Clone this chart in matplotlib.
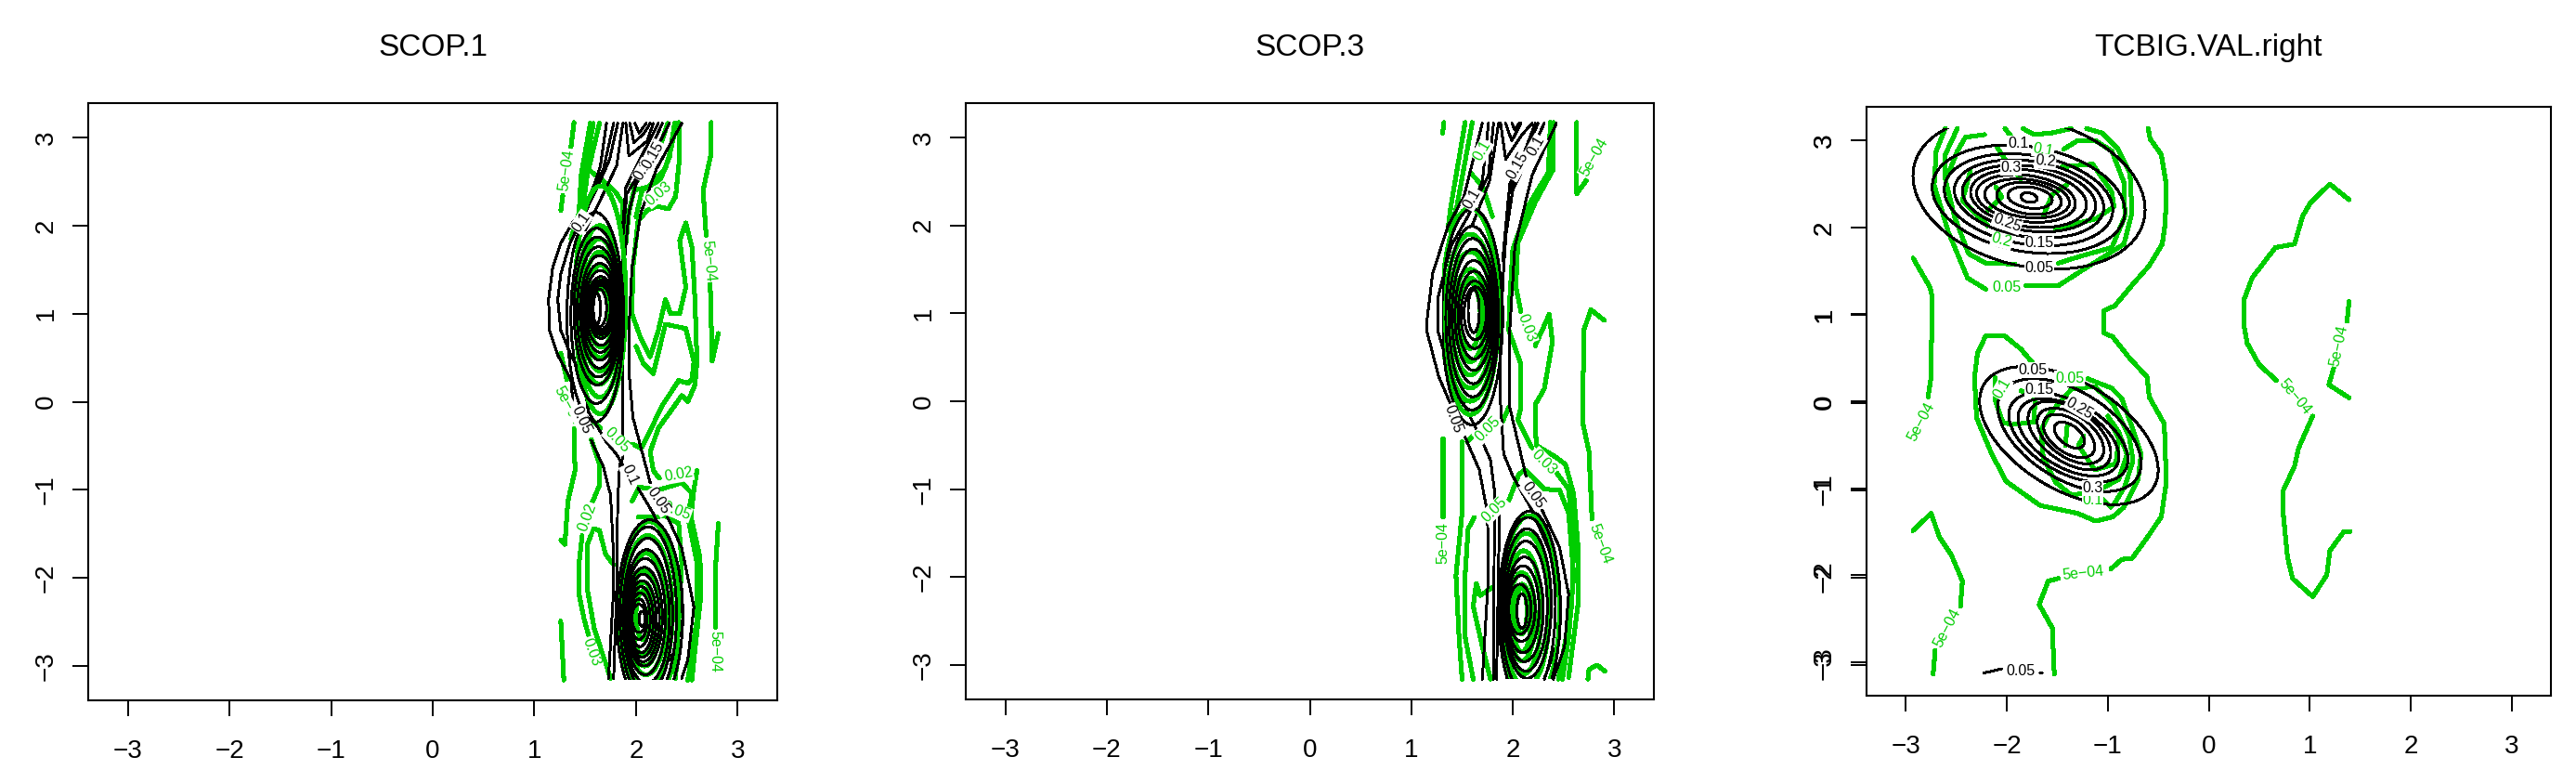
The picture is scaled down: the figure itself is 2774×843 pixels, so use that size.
import numpy as np
import matplotlib
matplotlib.use('Agg')
import matplotlib.pyplot as plt
from matplotlib.patches import Ellipse, Rectangle

plt.rcParams['font.family'] = ['Liberation Sans', 'DejaVu Sans']

GREEN = '#00CD00'
M = '5e\u221204'
W, H = 2774, 843
LIM = 3.39

titles = ['SCOP.1', 'SCOP.3', 'TCBIG.VAL.right']
ticks = [-3, -2, -1, 0, 1, 2, 3]
# frame of each panel in pixels: left, right, top, bottom
frames = [(95, 837, 111, 754), (1040, 1781, 111, 753), (2010, 2747, 115, 749)]
# contour grid extent per panel: x0, x1, y0, y1
extents = [(1.25, 2.82, -3.16, 3.17), (1.30, 2.92, -3.16, 3.17), (-2.95, 1.40, -3.14, 3.14)]

# ---- SCOP.1 ----
scop1_green = [
    [(2.74, 3.17), (2.74, 2.82), (2.66, 2.40), (2.69, 1.89), None, (2.73, 1.34), (2.75, .46), (2.81, .775)],
    [(1.39, 3.17), (1.36, 2.89), None, (1.28, 2.34), (1.26, 2.17)],
    [(2.42, 3.17), (2.43, 2.79), (2.39, 2.33), (2.32, 2.19), (2.20, 2.22), (2.11, 2.17), (2.02, 2.05), (1.97, 1.52),
     (1.96, 1.0), (2.05, .71), (2.14, .51), (2.22, .81), (2.29, 1.16), (2.34, 1.0), (2.43, 1.0), (2.49, 1.30),
     (2.43, 1.83), (2.49, 2.03), (2.55, 1.76), (2.58, 1.16), (2.60, .46), (2.58, .19), (2.51, 0.0), (2.45, .07),
     (2.34, -.11), (2.22, -.30), (2.14, -.57), (2.17, -.78), (2.23, -.87)],
    [(2.0, .63), (2.07, .44), (2.17, .32), (2.29, .88), (2.49, .83), (2.57, .46), (2.55, .25), (2.51, .21),
     (2.42, .24), (2.26, -.04), (2.13, -.35), (2.05, -.53), (1.97, -.48), None, (1.65, -.30), (1.58, -.22)],
    [(1.26, .55), (1.32, .25), None, (1.39, -.30), (1.40, -.78), (1.33, -1.13), (1.30, -1.62), (1.26, -1.57)],
    [(1.56, -.43), (1.64, -.71), (1.64, -.95), (1.56, -1.17), None, (1.47, -1.52), (1.44, -1.83), (1.44, -2.19),
     (1.49, -2.47), (1.55, -2.72), None, (1.62, -3.14)],
    [(1.78, -1.85), (1.70, -1.73), (1.64, -1.46), (1.58, -1.44), (1.52, -1.63), (1.52, -2.12), (1.59, -2.58), (1.75, -3.14)],
    [(1.26, -2.49), (1.29, -3.16)],
    [(2.81, -1.38), (2.78, -1.94), (2.78, -2.56)],
    [(2.60, -.78), (2.57, -1.0), (2.54, -1.30), (2.63, -1.77), (2.64, -2.19), (2.58, -2.82), (2.55, -3.16)],
    [(2.03, -.97), (2.23, -1.0), (2.45, -.92), (2.55, -1.04), (2.51, -1.31), (2.60, -1.83), (2.60, -2.47), (2.51, -3.16)],
    [(1.96, -1.13), (2.03, -.97)],
    [(2.02, -1.31), (2.29, -1.30), (2.42, -1.38), (2.45, -1.83), (2.39, -3.14)],
    [(1.55, 3.16), (1.46, 2.57), (1.44, 2.15), (1.36, 1.85)],
    [(1.64, 3.16), (1.52, 2.57), (1.48, 2.22), (1.40, 1.95)],
    [(1.58, 3.16), (1.49, 2.57), (1.46, 2.22), (1.38, 1.90)],
    [(2.40, 3.16), (2.34, 2.85), (2.29, 2.65), (2.12, 2.44), (1.98, 2.40), (1.93, 2.15), (1.90, 1.80)],
    [(2.31, 3.16), (2.24, 2.90), (2.10, 2.60), (1.96, 2.45)],
    [(2.38, 3.16), (2.33, 2.78), (2.24, 2.52), (2.06, 2.40), (2.0, 2.10)],
    [(1.55, 2.62), (1.68, 2.50), (1.80, 2.38), (1.87, 2.25), (1.86, 1.90)],
]
scop1_black = [
    [(2.45, 3.16), (2.20, 2.64), (2.05, 2.15), (1.96, 1.52), (1.93, .81), (1.93, .35), (1.97, -.18), (2.14, -.92), None,
     (2.31, -1.31), (2.45, -1.66), (2.57, -2.33), (2.51, -2.93), (2.45, -3.14)],
    [(1.71, 3.16), (1.65, 2.68), (1.59, 2.47), (1.52, 2.27), None, (1.39, 2.06), (1.26, 1.80), (1.18, 1.52), (1.14, 1.16),
     (1.15, .81), (1.23, .53), (1.36, .25), (1.38, -.02), None, (1.56, -.44), (1.68, -.74), (1.75, -1.06), (1.78, -1.77),
     (1.78, -2.12), (1.73, -3.14)],
    [(1.82, 3.16), (1.74, 2.75), (1.62, 2.43), (1.50, 2.15), (1.35, 1.80), (1.26, 1.45), (1.23, 1.16), (1.26, .81),
     (1.36, .53), (1.49, .25), (1.53, -.11), (1.71, -.46), (1.81, -.60), (1.88, -.74), None, (2.02, -.98), (2.17, -1.27),
     (2.32, -1.66), (2.45, -2.12), (2.46, -2.47), (2.39, -2.82), (2.20, -3.14)],
    [(2.33, 3.16), (2.11, 2.68), (2.0, 2.47), (1.93, 2.15), (1.88, 1.52), (1.87, .81), (1.87, .35), (1.87, -.64),
     (1.84, -.71), (1.82, -1.13), (1.81, -2.12), (1.78, -3.14)],
    [(1.78, 3.16), (1.68, 2.64), (1.53, 2.29), (1.44, 2.04)],
    [(1.87, 3.16), (1.81, 2.68), (1.62, 2.22), (1.50, 1.95)],
    [(2.26, 3.16), (2.02, 2.57), (1.91, 2.36), (1.87, 1.87), (1.86, 1.40)],
    [(2.22, 3.16), (1.99, 2.64), (1.90, 2.43), (1.87, 2.0)],
    [(1.90, 3.16), (1.93, 2.79), (2.11, 2.96), (2.17, 3.16)],
    [(1.94, 3.16), (1.98, 2.94), (2.08, 3.05), (2.14, 3.16)],
    [(1.99, 3.16), (2.03, 3.05), (2.10, 3.16)],
]
# rings as x_lo, x_hi, y_lo, y_hi
scop1_rings_green = [
    (1.40, 1.90, -.14, 2.45), (1.42, 1.87, .05, 2.0), (1.44, 1.84, .2, 1.85), (1.47, 1.82, .35, 1.70),
    (1.50, 1.80, .5, 1.55), (1.53, 1.78, .62, 1.4), (1.56, 1.74, .75, 1.28),
    (1.84, 2.42, -3.4, -1.36), (1.87, 2.36, -3.25, -1.52), (1.90, 2.30, -3.1, -1.72), (1.93, 2.24, -3.0, -1.92),
    (1.96, 2.19, -2.88, -2.05), (2.0, 2.14, -2.70, -2.15),
]
scop1_rings_black = [
    (1.32, 1.88, -.23, 2.15), (1.36, 1.86, -.02, 1.97), (1.39, 1.85, .19, 1.87), (1.42, 1.84, .28, 1.76),
    (1.45, 1.83, .38, 1.66), (1.47, 1.82, .47, 1.57), (1.49, 1.81, .56, 1.49), (1.51, 1.80, .64, 1.42),
    (1.53, 1.785, .72, 1.38), (1.54, 1.775, .76, 1.36), (1.55, 1.765, .79, 1.34), (1.56, 1.75, .82, 1.32),
    (1.57, 1.71, .85, 1.28), (1.58, 1.65, .88, 1.23),
    (1.81, 2.46, -3.5, -1.34), (1.84, 2.40, -3.4, -1.42), (1.87, 2.36, -3.3, -1.55), (1.88, 2.33, -3.2, -1.68),
    (1.89, 2.29, -3.1, -1.78), (1.90, 2.26, -3.0, -1.88), (1.91, 2.23, -2.95, -1.96), (1.92, 2.20, -2.90, -2.03),
    (1.93, 2.17, -2.85, -2.10), (1.94, 2.14, -2.78, -2.17), (1.95, 2.11, -2.70, -2.24), (1.96, 2.10, -2.62, -2.3),
    (2.03, 2.09, -2.55, -2.38),
]
# text, x, y, rotation, colour
scop1_labels = [
    (M, 1.32, 2.63, 82, GREEN), (M, 2.71, 1.60, -85, GREEN), (M, 1.32, -.04, -62, GREEN), ('0.02', 2.42, -.83, 10, GREEN),
    ('0.03', 2.22, 2.36, 40, GREEN), ('0.05', 1.81, -.44, -45, GREEN), ('0.05', 2.40, -1.24, -20, GREEN),
    ('0.02', 1.52, -1.31, 70, GREEN), ('0.03', 1.56, -2.84, -70, GREEN), (M, 2.78, -2.84, -90, GREEN),
    ('0.1', 1.46, 2.04, 55, 'black'), ('0.1', 2.07, 2.63, 60, 'black'), ('0.15', 2.17, 2.80, 60, 'black'),
    ('0.05', 1.46, -.21, -65, 'black'), ('0.1', 1.94, -.83, -65, 'black'), ('0.05', 2.22, -1.13, -55, 'black'),
]

# ---- SCOP.3 ----
scop3_green = [
    [(1.32, 3.17), (1.31, 3.05)],
    [(2.63, 3.17), (2.63, 2.36), (2.73, 2.52)],
    [(2.90, .92), (2.77, 1.04), (2.70, .81), (2.69, -.07), (2.69, -.25), (2.75, -.57), (2.78, -1.34)],
    [(2.74, -3.16), (2.75, -3.05), (2.83, -3.0), (2.91, -3.07)],
    [(1.31, -.42), (1.31, -1.32)],
    [(2.40, 3.17), (2.40, 2.64), (2.22, 2.26), (2.05, 1.80), (2.03, 1.30), (2.08, 1.02), None, (2.22, .63), (2.36, .99),
     (2.39, .67), (2.31, .14), (2.22, -.04), (2.23, -.5), (2.43, -.64), (2.52, -.72), (2.60, -1.06), (2.64, -1.62),
     (2.64, -2.33), (2.55, -3.14)],
    [(2.37, 3.17), (2.35, 2.60), (2.15, 2.22), (2.0, 1.73), (1.97, 1.16), (1.96, .81), (2.08, .42), (2.08, -.07),
     (2.05, -.21), (2.19, -.53), None, (2.43, -.81), (2.55, -1.0), (2.60, -1.62), (2.58, -2.33), (2.45, -3.16)],
    [(1.53, 3.17), (1.39, 2.22), (1.36, 1.95)],
    [(1.60, 3.17), (1.45, 2.22), (1.38, 1.95)],
    [(1.50, -.46), (1.50, -1.27), (1.44, -1.98), (1.47, -2.68), (1.50, -3.16)],
    [(1.62, -1.32), (1.56, -1.45), (1.53, -1.98), (1.53, -2.68), (1.61, -3.16)],
    [(1.79, -2.12), (1.68, -2.21), (1.64, -2.07), (1.61, -2.33), (1.70, -2.79), (1.78, -3.16)],
    [(1.96, -1.13), (2.06, -.83), (2.12, -.78), (2.31, -1.0), (2.46, -1.01), (2.55, -1.27), (2.60, -1.98), (2.55, -2.68), (2.49, -3.16)],
    [(1.96, -.07), (1.90, -.23), None, (1.60, -.40), (1.55, -.46)],
    [(1.58, 2.60), (1.70, 2.45), (1.80, 2.10)],
]
scop3_black = [
    [(1.70, 3.16), (1.52, 2.33), (1.36, 1.99), (1.21, 1.45), (1.15, .88), (1.15, .81), (1.27, .28), (1.39, -.04), None,
     (1.53, -.41), (1.67, -.78), (1.75, -1.27), (1.76, -1.98), (1.70, -3.16)],
    [(1.81, 3.16), (1.76, 2.57), (1.58, 2.15), (1.39, 1.76), (1.26, 1.16), (1.26, .81), (1.39, .28), (1.53, -.06),
     (1.70, -.46), (1.78, -.67), (1.82, -1.02), (1.81, -3.16)],
    [(2.43, 3.16), (2.19, 2.57), (2.02, 1.76), (1.97, .81), (1.97, -.04), (1.97, -.07), (2.13, -.85), None, (2.29, -1.24),
     (2.46, -1.66), (2.55, -2.19), (2.51, -2.79), (2.40, -3.16)],
    [(2.25, 3.16), (1.97, 2.47), (1.91, 1.52), (1.88, .81), (1.88, -.04), (1.89, -.21), (1.91, -.6), (2.0, -.85),
     (2.19, -1.24), (2.37, -1.73), (2.46, -2.19), (2.46, -2.68), (2.31, -3.16)],
    [(1.88, 3.16), (1.93, 2.75), (2.09, 3.03), (2.19, 3.16)],
    [(1.93, 3.16), (1.99, 2.96), (2.08, 3.16)],
    [(1.99, 3.16), (2.02, 3.09), (2.06, 3.16)],
    [(1.76, 3.16), (1.70, 2.50), (1.55, 2.08)],
    [(1.86, 3.16), (1.77, 2.50), (1.60, 2.0)],
    [(2.22, 3.16), (1.96, 2.36), (1.90, 1.6)],
    [(2.31, 3.16), (2.0, 2.40), (1.92, 1.8)],
    [(1.87, -1.2), (1.84, -3.16)],
]
scop3_rings_green = [
    (1.30, 1.86, -.15, 2.2), (1.33, 1.83, 0, 1.9), (1.36, 1.80, .15, 1.7), (1.40, 1.76, .3, 1.5),
    (1.44, 1.72, .45, 1.4), (1.48, 1.68, .6, 1.35),
    (1.88, 2.46, -3.45, -1.3), (1.90, 2.36, -3.25, -1.5), (1.93, 2.28, -3.1, -1.7), (1.96, 2.22, -2.95, -1.95),
    (2.0, 2.18, -2.85, -2.08), (2.03, 2.14, -2.65, -2.12),
]
scop3_rings_black = [
    (1.30, 1.90, -.27, 2.19), (1.34, 1.86, -.1, 1.99), (1.37, 1.84, .05, 1.85), (1.40, 1.82, .2, 1.73),
    (1.43, 1.80, .35, 1.60), (1.46, 1.78, .48, 1.48), (1.49, 1.76, .6, 1.37), (1.52, 1.74, .7, 1.30), (1.56, 1.67, .78, 1.27),
    (1.86, 2.47, -3.5, -1.25), (1.88, 2.42, -3.35, -1.32), (1.90, 2.38, -3.15, -1.45), (1.92, 2.34, -3.07, -1.59),
    (1.93, 2.30, -2.96, -1.77), (1.94, 2.26, -2.86, -1.87), (1.95, 2.22, -2.73, -1.98), (1.96, 2.18, -2.65, -2.08),
    (2.04, 2.14, -2.58, -2.19),
]
scop3_labels = [
    (M, 2.80, 2.77, 60, GREEN), (M, 2.86, -1.62, -70, GREEN), (M, 1.31, -1.61, 90, GREEN), ('0.03', 2.14, .83, -70, GREEN),
    ('0.03', 2.31, -.69, -45, GREEN), ('0.05', 1.75, -.32, 45, GREEN), ('0.05', 1.82, -1.23, 45, GREEN), ('0.1', 1.70, 2.85, 60, GREEN),
    ('0.05', 2.20, -1.07, -55, 'black'), ('0.05', 1.41, -.2, -70, 'black'), ('0.1', 1.60, 2.3, 60, 'black'), ('0.15', 2.05, 2.68, 60, 'black'),
    ('0.1', 2.23, 2.90, 60, 'black'),
]

# ---- TCBIG.VAL.right ----
tcbig_green = [
    [(-2.93, 1.65), (-2.76, 1.31), (-2.74, 1.2), (-2.75, .35), (-2.75, .28), (-2.78, .05)],
    [(-2.93, -1.49), (-2.75, -1.29), (-2.67, -1.56), (-2.55, -1.77), (-2.44, -2.07), (-2.46, -2.36), None, (-2.71, -2.87), (-2.73, -3.14)],
    [(-.6, 3.14), (-.58, 3.02), (-.47, 2.84), (-.42, 2.49), (-.43, 2.06), (-.46, 1.81), (-.59, 1.56), (-.75, 1.35),
     (-.93, 1.10), (-1.04, 1.04), (-1.04, .79), (-.95, .74), (-.78, .49), (-.61, .28), (-.59, .05), (-.44, -.26),
     (-.42, -.93), (-.47, -1.33), (-.61, -1.57), (-.76, -1.81), (-.86, -1.82), (-.97, -1.93), None, (-1.49, -2.04),
     (-1.59, -2.07), (-1.68, -2.34), (-1.55, -2.61), (-1.53, -3.14)],
    [(-2.61, 3.14), (-2.70, 2.88), (-2.72, 2.49), (-2.58, 1.95), (-2.39, 1.42), (-2.21, 1.29), None, (-1.81, 1.33),
     (-1.49, 1.33), (-1.21, 1.54), (-1.03, 1.67), (-.84, 1.81), (-.76, 2.17), (-.78, 2.63), (-.90, 2.91), (-1.06, 3.09), (-1.21, 3.14)],
    [(-2.49, 3.14), (-2.61, 2.84), (-2.61, 2.56), (-2.52, 2.13), (-2.38, 1.70), (-2.21, 1.59), (-1.92, 1.58), None,
     (-1.49, 1.59), (-1.27, 1.67), (-.96, 1.77), (-.83, 2.13), (-.84, 2.52), (-.96, 2.88), (-1.12, 3.0), (-1.30, 3.0), (-1.44, 2.9)],
    [(-1.84, 3.14), (-1.73, 3.07), (-1.55, 3.09), (-1.36, 3.14)],
    [(-2.02, 3.14), (-1.86, 2.91)],
    [(-2.22, 3.07), (-2.41, 3.04), (-2.49, 2.88), (-2.60, 2.56)],
    [(-2.1, 2.93), (-2.01, 2.77), (-1.86, 2.56)],
    [(-2.36, 2.66), (-2.44, 2.31), (-2.19, 2.02), None, (-1.52, 1.99), (-1.12, 2.10), (-.94, 2.24), (-.96, 2.41), (-1.15, 2.73), (-1.45, 2.70)],
    [(-2.11, 2.47), (-2.05, 2.35), (-2.19, 2.2)],
    [(-1.55, 2.38), (-1.41, 2.49)],
    [(-1.55, 2.38), (-1.64, 2.13)],
    [(-2.21, .75), (-2.02, .75), (-1.86, .60), (-1.70, .38), None, (-1.20, .26), (-.96, .15), (-.86, .03), (-.75, -.33),
     (-.67, -.61), (-.70, -.90), (-.84, -1.22), (-.95, -1.33), (-1.12, -1.38), (-1.3, -1.29), (-1.67, -1.20), (-2.01, -.92),
     (-2.16, -.58), (-2.30, -.19), (-2.32, .28), (-2.29, .56), (-2.21, .75)],
    [(-2.12, .28), (-2.12, .03), (-2.04, -.24), (-1.96, -.27), (-1.73, -.24), (-1.72, .05), (-1.86, .12)],
    [(-1.13, .17), (-.95, -.03), (-.79, -.40), (-.75, -.68), (-.83, -.98), (-.93, -1.17), (-.97, -1.22), (-1.13, -1.04)],
    [(-1.0, -.17), (-.89, -.36), (-.81, -.61), (-.89, -.90), (-1.12, -1.04), (-1.36, -1.08), (-1.52, -.93), (-1.64, -.65),
     (-1.66, -.33), (-1.58, -.15), (-1.36, .14), (-1.13, .17)],
    [(-1.40, -.26), (-1.42, -.51)],
    [(-1.24, -.40), (-1.29, -.51), (-1.13, -.79), (-.92, -.72), (-.89, -.43), (-1.0, -.17)],
    [(1.39, 2.32), (1.20, 2.50), (1.01, 2.29), (.93, 2.13), (.85, 1.81), (.66, 1.77), (.43, 1.42), (.35, 1.17), (.35, .87),
     (.38, .67), (.50, .42), (.67, .24), None, (1.03, -.17), (.89, -.54), (.85, -.75), (.74, -1.02), (.74, -1.32), (.78, -1.79),
     (.83, -2.04), (1.03, -2.25), (1.17, -2.0), (1.20, -1.72), (1.34, -1.50), (1.40, -1.50)],
    [(1.39, 1.15), (1.37, .92), None, (1.24, .39), (1.19, .19), (1.39, .04)],
]
tcbig_black = [
    [(-2.23, -3.13), (-2.05, -3.08), None, (-1.67, -3.13), (-1.65, -3.13)],
]
tcbig_rings_black = [
    (-2.93, -.63, 1.52, 3.28), (-2.74, -.83, 1.70, 2.95), (-2.62, -.95, 1.79, 2.85), (-2.52, -1.04, 1.88, 2.78),
    (-2.44, -1.12, 1.95, 2.72), (-2.36, -1.21, 2.0, 2.67), (-2.30, -1.32, 2.06, 2.61), (-2.22, -1.38, 2.11, 2.56),
    (-2.10, -1.46, 2.15, 2.52), (-1.99, -1.55, 2.22, 2.47), (-1.86, -1.70, 2.29, 2.40),
]
tcbig_rings_low = [
    (-2.27, -.50, -1.19, .40), (-2.09, -.67, -1.04, .26), (-1.98, -.80, -.93, .10), (-1.89, -.89, -.86, .03),
    (-1.79, -.97, -.79, 0), (-1.70, -1.04, -.72, -.08), (-1.64, -1.13, -.65, -.15), (-1.53, -1.23, -.54, -.24),
]
tcbig_labels = [
    (M, -2.85, -.24, 62, GREEN), (M, -2.59, -2.61, 62, GREEN), (M, -1.24, -1.98, 6, GREEN), (M, .85, .05, -50, GREEN), (M, 1.29, .64, 78, GREEN),
    ('0.05', -2.0, 1.31, 0, GREEN), ('0.05', -1.38, .26, 0, GREEN), ('0.1', -1.64, 2.89, -10, GREEN), ('0.2', -2.05, 1.85, -15, GREEN),
    ('0.1', -1.15, -1.14, 0, GREEN), ('0.1', -2.05, .15, 60, GREEN),
    ('0.1', -1.89, 2.97, 0, 'black'), ('0.2', -1.62, 2.76, -5, 'black'), ('0.3', -1.96, 2.69, 0, 'black'), ('0.25', -2.0, 2.05, -20, 'black'),
    ('0.15', -1.68, 1.82, 0, 'black'), ('0.05', -1.68, 1.53, 0, 'black'), ('0.05', -1.74, .36, 0, 'black'), ('0.15', -1.68, .13, 0, 'black'),
    ('0.25', -1.28, -.08, -30, 'black'), ('0.3', -1.15, -1.0, 0, 'black'), ('0.05', -1.86, -3.11, 0, 'black'),
]


def add_lines(ax, lines, color, lw):
    for line in lines:
        pts = np.array([(np.nan, np.nan) if p is None else p for p in line], dtype=float)
        ax.plot(pts[:, 0], pts[:, 1], color=color, lw=lw, antialiased=False, solid_capstyle='round')


def add_rings(ax, rings, color, lw, extent, rho=0.0):
    clip = Rectangle((extent[0], extent[2]), extent[1] - extent[0], extent[3] - extent[2], transform=ax.transData)
    for x_lo, x_hi, y_lo, y_hi in rings:
        rx, ry = (x_hi - x_lo) / 2, (y_hi - y_lo) / 2
        # tilt of the ring from its extents
        cov = np.array([[rx * rx, rho * rx * ry], [rho * rx * ry, ry * ry]])
        vals, vecs = np.linalg.eigh(cov)
        angle = np.degrees(np.arctan2(vecs[1, 1], vecs[0, 1]))
        ring = Ellipse(((x_lo + x_hi) / 2, (y_lo + y_hi) / 2), 2 * np.sqrt(vals[1]), 2 * np.sqrt(vals[0]), angle=angle,
                       fill=False, edgecolor=color, lw=lw, antialiased=False, zorder=3)
        ax.add_patch(ring)
        ring.set_clip_path(clip)


def add_labels(ax, labels):
    for text, x, y, rot, color in labels:
        ax.text(x, y, text, color=color, fontsize=11.5, rotation=rot, rotation_mode='anchor', ha='center', va='center',
                zorder=5, bbox=dict(facecolor='white', edgecolor='none', pad=0.6))


def make_axes(i):
    left, right, top, bottom = frames[i]
    ax = fig.add_axes([left / W, 1 - bottom / H, (right - left) / W, (bottom - top) / H])
    ax.set_xlim(-LIM, LIM)
    ax.set_ylim(-LIM, LIM)
    style_axis(ax)
    fig.text((left + right) / 2 / W, 1 - 60 / H, titles[i], fontsize=24, ha='center', va='baseline')
    return ax


def style_axis(ax):
    ax.set_xticks(ticks)
    ax.set_yticks(ticks)
    ax.set_xticklabels([str(t).replace('-', '\u2212') for t in ticks])
    ax.set_yticklabels([str(t).replace('-', '\u2212') for t in ticks], rotation=90, va='center')
    ax.tick_params(axis='x', length=12, width=1.4, pad=18.5, labelsize=20)
    ax.tick_params(axis='y', length=12, width=1.4, pad=11, labelsize=20)
    for s in ax.spines.values():
        s.set_linewidth(1.5)


fig = plt.figure(figsize=(W / 100, H / 100), dpi=100)

ax1 = make_axes(0)
add_lines(ax1, scop1_green, GREEN, 2.9)
add_rings(ax1, scop1_rings_green, GREEN, 2.9, extents[0])
add_lines(ax1, scop1_black, 'black', 1.4)
add_rings(ax1, scop1_rings_black, 'black', 1.4, extents[0])
add_labels(ax1, scop1_labels)

ax2 = make_axes(1)
add_lines(ax2, scop3_green, GREEN, 2.9)
add_rings(ax2, scop3_rings_green, GREEN, 2.9, extents[1])
add_lines(ax2, scop3_black, 'black', 1.4)
add_rings(ax2, scop3_rings_black, 'black', 1.4, extents[1])
add_labels(ax2, scop3_labels)

ax3 = make_axes(2)
add_lines(ax3, tcbig_green, GREEN, 2.9)
add_lines(ax3, tcbig_black, 'black', 1.4)
add_rings(ax3, tcbig_rings_black, 'black', 1.4, extents[2], rho=-0.22)
add_rings(ax3, tcbig_rings_low, 'black', 1.4, extents[2], rho=-0.5)
add_labels(ax3, tcbig_labels)

# the last panel has its y axis drawn twice, very slightly off
ax3b = fig.add_axes(ax3.get_position(), frameon=False)
ax3b.set_xlim(-LIM, LIM)
ax3b.set_ylim(-3.35, 3.382)
style_axis(ax3b)
ax3b.set_xticks([])
ax3b.patch.set_alpha(0)

fig.savefig('out.png', dpi=100)
